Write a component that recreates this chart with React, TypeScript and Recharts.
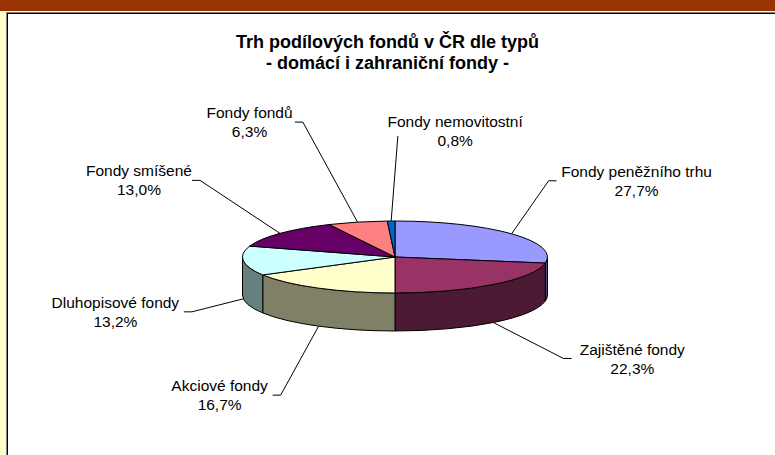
import React from 'react';
import { PieChart, Pie, Cell } from 'recharts';

const CATEGORIES = [
  'Fondy peněžního trhu',
  'Zajištěné fondy',
  'Akciové fondy',
  'Dluhopisové fondy',
  'Fondy smíšené',
  'Fondy fondů',
  'Fondy nemovitostní',
];
const SHARES = [27.7, 22.3, 16.7, 13.2, 13.0, 6.3, 0.8];
const COLORS = ['#9999FF', '#993366', '#FFFFCC', '#CCFFFF', '#660066', '#FF8080', '#0066CC'];
const TITLE_LINES = ['Trh podílových fondů v ČR dle typů', '- domácí i zahraniční fondy -'];

// label placement relative to the leader-line anchor on the slice edge (layout only)
const LABEL_OFFSETS: [number, number][] = [
  [125, -53],
  [139, 36],
  [-99, 69],
  [-128, 13],
  [-141, -53],
  [-108, -100],
  [64, -90],
];

const data = CATEGORIES.map((name, i) => ({ name, value: SHARES[i] }));

const RAD = Math.PI / 180;
const TILT = 0.236;
const DEPTH = 38;
const FONT = '"Liberation Sans", Arial, sans-serif';
const LABEL_SIZE = 15.5;
const CHAR_W = 7.7;

const darken = (hex: string) => {
  const n = parseInt(hex.slice(1), 16);
  const r = Math.round(((n >> 16) & 255) / 2);
  const g = Math.round(((n >> 8) & 255) / 2);
  const b = Math.round((n & 255) / 2);
  return `rgb(${r},${g},${b})`;
};

const Slice3D = (props: any) => {
  const { cx, cy, outerRadius, startAngle, endAngle, fill } = props;
  const rx = outerRadius;
  const ry = outerRadius * TILT;
  const pt = (deg: number, dy = 0): [number, number] => [
    cx + rx * Math.cos(deg * RAD),
    cy - ry * Math.sin(deg * RAD) + dy,
  ];
  const [sx, sy] = pt(startAngle);
  const [ex, ey] = pt(endAngle);
  const large = Math.abs(startAngle - endAngle) > 180 ? 1 : 0;
  const top = `M${cx},${cy} L${sx},${sy} A${rx},${ry} 0 ${large} 1 ${ex},${ey} Z`;
  const hi = Math.min(Math.max(startAngle, endAngle), 0);
  const lo = Math.max(Math.min(startAngle, endAngle), -180);
  let side: string | null = null;
  if (hi > lo) {
    const [hx, hy] = pt(hi);
    const [lx, ly] = pt(lo);
    side = `M${hx},${hy} A${rx},${ry} 0 0 1 ${lx},${ly} L${lx},${ly + DEPTH} A${rx},${ry} 0 0 0 ${hx},${hy + DEPTH} Z`;
  }
  return (
    <g>
      {side && <path d={side} fill={darken(fill)} stroke="#000" strokeWidth={1} strokeLinejoin="round" />}
      <path d={top} fill={fill} stroke="#000" strokeWidth={1} strokeLinejoin="round" />
    </g>
  );
};

const renderLabel = (p: any) => {
  const { cx, cy, midAngle, outerRadius, index } = p;
  const rx = outerRadius;
  const ry = outerRadius * TILT;
  const a = midAngle * RAD;
  const ax = cx + rx * Math.cos(a);
  let ay = cy - ry * Math.sin(a);
  if (Math.sin(a) < 0) ay += DEPTH;
  const [ox, oy] = LABEL_OFFSETS[index];
  const lx = ax + ox;
  const ly = ay + oy;
  const name = CATEGORIES[index];
  const pct = SHARES[index].toFixed(1).replace('.', ',') + '%';
  const w = name.length * CHAR_W;
  let d: string;
  if (Math.abs(ox) > w / 2 + 4) {
    const dir = ox > 0 ? 1 : -1;
    const tx = lx - dir * (w / 2 + 3);
    const kx = tx - dir * 8;
    d = `M${ax},${ay} L${kx},${ly} L${tx},${ly}`;
  } else {
    d = `M${ax},${ay} L${lx - w / 2 + 12},${ly + 5}`;
  }
  return (
    <g key={`lbl-${index}`}>
      <path d={d} stroke="#000" strokeWidth={1} fill="none" />
      <text textAnchor="middle" fontSize={LABEL_SIZE} fontFamily={FONT} fill="#000">
        <tspan x={lx} y={ly - 4}>{name}</tspan>
        <tspan x={lx} y={ly + 15}>{pct}</tspan>
      </text>
    </g>
  );
};

export default function App() {
  return (
    <div
      style={{
        position: 'absolute',
        left: 0,
        top: 0,
        width: 775,
        height: 455,
        overflow: 'hidden',
        background: '#FFFFCC',
      }}
    >
      <div style={{ position: 'absolute', left: 0, top: 0, width: 775, height: 11, background: '#993300' }} />
      <div
        style={{
          position: 'absolute',
          left: 6,
          top: 12,
          width: 820,
          height: 500,
          borderTop: '1px solid #808080',
          borderLeft: '1px solid #808080',
        }}
      >
        <div
          style={{
            width: '100%',
            height: '100%',
            borderTop: '1px solid #000',
            borderLeft: '1px solid #000',
            background: '#FFFFFF',
          }}
        />
      </div>
      <div
        style={{
          position: 'absolute',
          left: 0,
          top: 32,
          width: 775,
          textAlign: 'center',
          fontFamily: FONT,
          fontWeight: 'bold',
          fontSize: 18,
          lineHeight: '21px',
          color: '#000',
        }}
      >
        <div>{TITLE_LINES[0]}</div>
        <div>{TITLE_LINES[1]}</div>
      </div>
      <div style={{ position: 'absolute', left: 0, top: 0 }}>
        <PieChart width={775} height={455} margin={{ top: 0, right: 0, bottom: 0, left: 0 }}>
          <Pie
            data={data}
            dataKey="value"
            nameKey="name"
            cx={395}
            cy={257}
            outerRadius={152.5}
            startAngle={90}
            endAngle={-270}
            stroke="#000"
            isAnimationActive={false}
            labelLine={false}
            label={renderLabel}
            shape={Slice3D}
            inactiveShape={Slice3D}
            activeShape={Slice3D}
          >
            {data.map((d, i) => (
              <Cell key={d.name} fill={COLORS[i]} />
            ))}
          </Pie>
        </PieChart>
      </div>
    </div>
  );
}
